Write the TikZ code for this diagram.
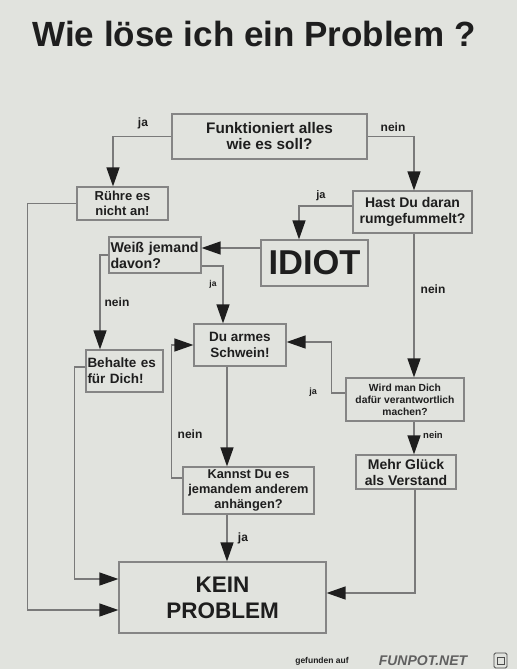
\documentclass[tikz,border=0pt]{standalone}
\usepackage{fontspec}
\setmainfont{Liberation Sans}
\usetikzlibrary{arrows.meta,calc}
\definecolor{bg}{HTML}{E1E3DE}
\definecolor{ink}{HTML}{1E1E1E}
\definecolor{edge}{HTML}{858585}
\definecolor{wire}{HTML}{7A7A7A}
\newcommand{\fsz}[2]{\fontsize{#1}{#2}\selectfont\bfseries}
\tikzset{
  box/.style={draw=edge, line width=1.2pt, fill=bg, text=ink, inner sep=1pt, align=center},
  arr/.style={draw=wire, line width=1.3pt, -{Triangle[length=19pt,width=13pt,color=ink]}},
  lbl/.style={text=ink, inner sep=0pt},
}
\begin{document}
\begin{tikzpicture}[x=1pt,y=-1pt]
\useasboundingbox (0,0) rectangle (517,669);
\fill[bg] (0,0) rectangle (517,669);

% title
\node[lbl, font={\fsz{35}{40}}] (title) at (254,34) {Wie löse ich ein Problem ?};

% boxes
\node[box, minimum width=195pt, minimum height=45pt, font={\fsz{15.3}{16}}] (fkt) at (269.5,136.5) {Funktioniert alles\\wie es soll?};
\node[box, minimum width=91pt, minimum height=33pt, font={\fsz{13}{15}}] (ruhre) at (122.5,203.5) {Rühre es\\nicht an!};
\node[box, minimum width=119pt, minimum height=42pt, font={\fsz{14}{16}}] (hast) at (412.5,212) {Hast Du daran\\rumgefummelt?};
\node[box, minimum width=107pt, minimum height=46pt, font={\fsz{34.5}{36}}] (idiot) at (314.5,263) {IDIOT};
\node[box, text width=89pt, minimum height=36pt, align=left, inner sep=1.5pt, font={\fsz{14.2}{16}}] (weiss) at (155,255) {\mbox{Weiß jemand}\\davon?};
\node[box, minimum width=92pt, minimum height=42pt, font={\fsz{13.5}{16}}] (duarmes) at (240,345) {Du armes\\Schwein!};
\node[box, text width=74pt, minimum height=42pt, align=left, inner sep=1.5pt, font={\fsz{13.5}{16}}] (behalte) at (124.5,371) {\mbox{Behalte es}\\\mbox{für Dich!}};
\node[box, minimum width=118pt, minimum height=43pt, font={\fsz{10.3}{12}}] (wird) at (405,399.5) {Wird man Dich\\dafür verantwortlich\\machen?};
\node[box, minimum width=100pt, minimum height=34pt, font={\fsz{14}{16}}] (mehr) at (406,472) {Mehr Glück\\als Verstand};
\node[box, minimum width=131pt, minimum height=47pt, font={\fsz{12.8}{15}}] (kannst) at (248.5,490.5) {Kannst Du es\\jemandem anderem\\anhängen?};
\node[box, minimum width=207pt, minimum height=71pt, font={\fsz{22.5}{26}}] (kein) at (222.5,597.5) {KEIN\\PROBLEM};

% connectors
\draw[arr] (fkt.west) -| ([xshift=-9.5pt]ruhre.north);
\draw[arr] (fkt.east) -| ([xshift=1.5pt]hast.north);
\draw[arr] ([yshift=6pt]hast.west) -| ([xshift=-15.5pt]idiot.north);
\draw[arr] (ruhre.west) -- ++(-49,0) |- ([yshift=-12.5pt]kein.west);
\draw[arr] ([yshift=15pt]idiot.west) -- ([yshift=15pt]idiot.west -| weiss.east);
\draw[arr] ([yshift=-11pt]weiss.east) -| ([xshift=-17pt]duarmes.north);
\draw[arr] (weiss.west) -| ([xshift=-24.5pt]behalte.north);
\draw[arr] ([yshift=4pt]behalte.west) -- ++(-11,0) |- ([yshift=18.5pt]kein.west);
\draw[arr] ([xshift=1.5pt]hast.south) -- ([xshift=1.5pt]hast.south |- wird.north);
\draw[arr] ([yshift=6.5pt]wird.west) -- ++(-14,0) |- ([yshift=3pt]duarmes.east);
\draw[arr] ([xshift=9pt]wird.south) -- ([xshift=9pt]wird.south |- mehr.north);
\draw[arr] ([xshift=-13pt]duarmes.south) -- ([xshift=-13pt]duarmes.south |- kannst.north);
\draw[arr] ([yshift=12.5pt]kannst.west) -- ++(-11,0) |- (duarmes.west);
\draw[arr] ([xshift=-21.5pt]kannst.south) -- ([xshift=-21.5pt]kannst.south |- kein.north);
\draw[arr] ([xshift=9pt]mehr.south) |- ([yshift=4.5pt]kein.east);

% labels
\node[lbl, font={\fsz{12}{14}}] (l1) at (143,123) {ja};
\node[lbl, font={\fsz{12}{14}}] (l2) at (393,127) {nein};
\node[lbl, font={\fsz{11}{13}}] (l3) at (321,196) {ja};
\node[lbl, font={\fsz{8.5}{10}}] (l4) at (213,284) {ja};
\node[lbl, font={\fsz{12}{14}}] (l5) at (117,302) {nein};
\node[lbl, font={\fsz{12}{14}}] (l6) at (433,289) {nein};
\node[lbl, font={\fsz{9}{11}}] (l7) at (313,392) {ja};
\node[lbl, font={\fsz{9.5}{11}}] (l8) at (433,435) {nein};
\node[lbl, font={\fsz{12}{14}}] (l9) at (190,434) {nein};
\node[lbl, font={\fsz{12}{14}}] (l10) at (243,538) {ja};

% footer
\node[lbl, font={\fsz{8.5}{10}}] (f1) at (322,661) {gefunden auf};
\node[lbl, text=gray!75!black, font={\fsz{14}{16}\itshape}] (f2) at (423,661) {FUNPOT.NET};
\draw[draw=gray!60!black, line width=0.8pt, rounded corners=1.5pt] (494,653) rectangle (507,668);
\draw[draw=gray!60!black, line width=0.6pt] (497,657) rectangle (504,664);
\end{tikzpicture}
\end{document}
